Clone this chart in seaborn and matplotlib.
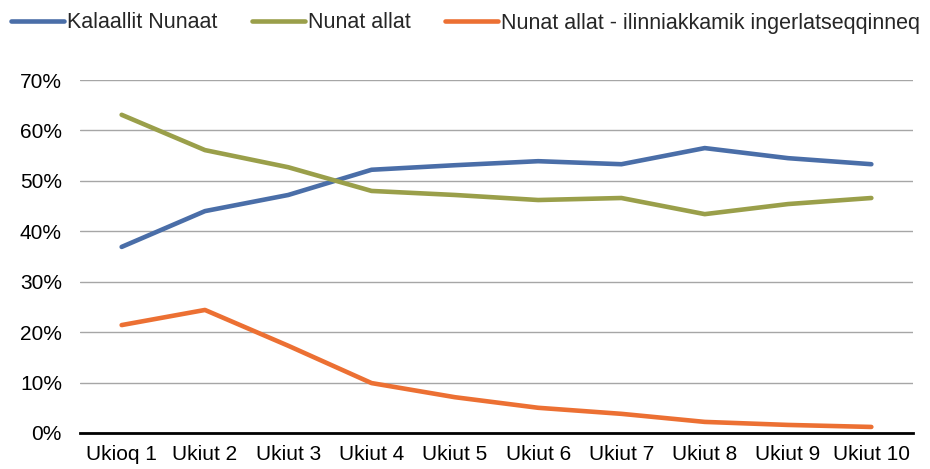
import matplotlib
matplotlib.use("Agg")
import matplotlib.pyplot as plt
import seaborn as sns
import pandas as pd
from matplotlib.ticker import FuncFormatter

categories = ["Ukioq 1", "Ukiut 2", "Ukiut 3", "Ukiut 4", "Ukiut 5",
              "Ukiut 6", "Ukiut 7", "Ukiut 8", "Ukiut 9", "Ukiut 10"]
kalaallit = [36.9, 44.0, 47.2, 52.2, 53.1, 53.9, 53.3, 56.5, 54.5, 53.3]
nunat = [63.1, 56.1, 52.7, 48.0, 47.2, 46.2, 46.6, 43.4, 45.4, 46.6]
nunat_ilin = [21.4, 24.4, 17.3, 9.9, 7.1, 5.0, 3.8, 2.2, 1.6, 1.2]
series_names = ["Kalaallit Nunaat", "Nunat allat",
                "Nunat allat - ilinniakkamik ingerlatseqqinneq"]
colors = ["#4A6EA8", "#9A9F4A", "#EC7033"]

sns.set_theme(style="white")
plt.rcParams['font.family'] = ['Liberation Sans', 'DejaVu Sans']

rows = []
for name, vals in zip(series_names, [kalaallit, nunat, nunat_ilin]):
    for i, (c, v) in enumerate(zip(categories, vals)):
        rows.append({"idx": i, "cat": c, "value": v, "series": name})
df = pd.DataFrame(rows)

fig = plt.figure(figsize=(9.3, 4.69), dpi=100)
ax = fig.add_axes([80/930, 1-433/469, (913-80)/930, (433-80)/469])

sns.lineplot(data=df, x="idx", y="value", hue="series", palette=colors,
             hue_order=series_names, linewidth=3.3, ax=ax, legend=True,
             solid_capstyle="round")

ax.set_xlim(-0.5, len(categories) - 0.5)
ax.set_ylim(0, 70)
ax.set_yticks(range(0, 71, 10))
ax.yaxis.set_major_formatter(FuncFormatter(lambda v, p: f"{int(v)}%"))
ax.set_xticks(range(len(categories)))
ax.set_xticklabels(categories)
ax.set_xlabel("")
ax.set_ylabel("")
ax.tick_params(axis="both", labelsize=15, length=0, colors="black")
ax.tick_params(axis="x", pad=9)
ax.tick_params(axis="y", pad=13)
ax.grid(axis="y", color="#A6A6A6", linewidth=1)
ax.set_axisbelow(True)
for s in ["left", "right", "top"]:
    ax.spines[s].set_visible(False)
ax.spines["bottom"].set_color("black")
ax.spines["bottom"].set_linewidth(2)
ax.spines["bottom"].set_zorder(5)

handles, labels = ax.get_legend_handles_labels()
ax.legend_.remove()
for h in handles:
    h.set_solid_capstyle("round")
fig.legend(handles, labels, loc="center left", bbox_to_anchor=(11/930, 1-23/469),
           ncol=3, frameon=False, fontsize=15.5, handlelength=2.45,
           handletextpad=0.15, columnspacing=1.6, borderaxespad=0, borderpad=0)

fig.savefig("out.png", dpi=100)
